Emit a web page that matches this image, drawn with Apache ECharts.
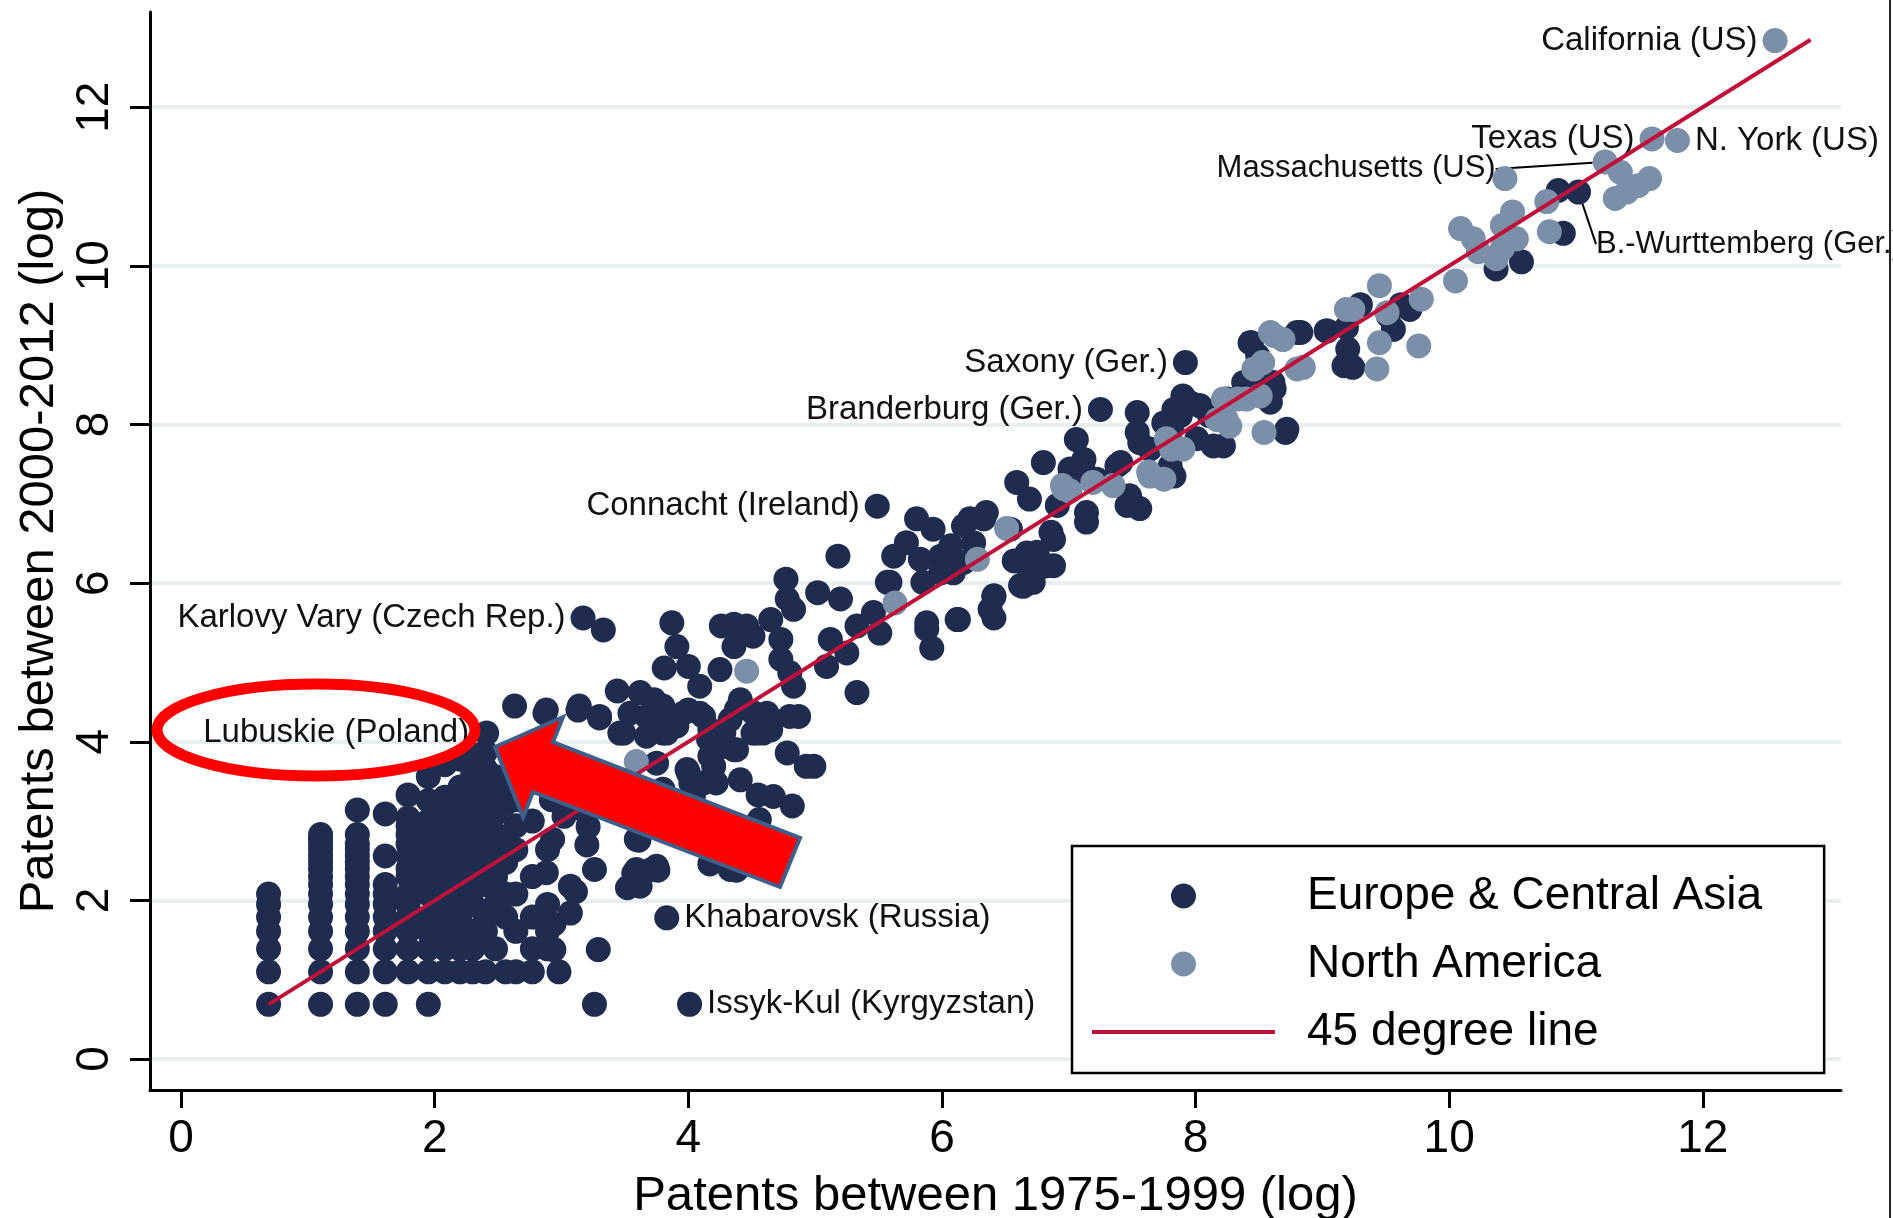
<!DOCTYPE html>
<html>
<head>
<meta charset="utf-8">
<title>Patents 1975-1999 vs 2000-2012</title>
<script src="https://cdn.jsdelivr.net/npm/echarts@6/dist/echarts.min.js"></script>
<style>
  html, body { margin: 0; padding: 0; background: #fff; }
  #chart { width: 1893px; height: 1218px; }
</style>
</head>
<body>
<div id="chart"></div>
<script>
// ---- data (log patents, x = 1975-1999, y = 2000-2012) ----
var tickValues = [0, 2, 4, 6, 8, 10, 12];
var lineEnds = [0.69, 12.85];

var europePoints = [
  [0.69,0.69],[0.69,1.10],[0.69,1.39],[0.69,1.61],[0.69,1.79],[0.69,1.95],[0.69,2.08],
  [1.10,0.69],[1.10,1.10],[1.10,1.39],[1.10,1.61],[1.10,1.79],[1.10,1.95],[1.10,2.08],[1.10,2.20],
  [1.10,2.30],[1.10,2.40],[1.10,2.48],[1.10,2.56],[1.10,2.64],[1.10,2.71],[1.10,2.77],[1.10,2.83],
  [1.39,0.69],[1.39,1.10],[1.39,1.39],[1.39,1.61],[1.39,1.79],[1.39,1.95],[1.39,2.08],[1.39,2.20],
  [1.39,2.30],[1.39,2.40],[1.39,2.48],[1.39,2.56],[1.39,2.64],[1.39,2.71],[1.39,2.83],[1.39,3.14],
  [1.61,0.69],[1.61,1.10],[1.61,1.39],[1.61,1.61],[1.61,1.79],[1.61,1.95],[1.61,2.08],[1.61,2.20],
  [1.61,2.56],[1.61,3.09],
  [1.79,1.10],[1.79,1.39],[1.79,1.61],[1.79,1.79],[1.79,1.95],[1.79,2.08],[1.79,2.30],[1.79,2.40],
  [1.79,2.56],[1.79,2.71],[1.79,2.83],[1.79,2.94],[1.79,3.04],[1.79,3.33],
  [1.95,0.69],[1.95,1.10],[1.95,1.39],[1.95,1.61],[1.95,1.79],[1.95,2.08],[1.95,2.20],[1.95,2.40],
  [1.95,2.56],[1.95,2.71],[1.95,2.89],[1.95,3.00],[1.95,3.26],[1.95,3.56],
  [2.08,1.10],[2.08,1.39],[2.08,1.61],[2.08,1.79],[2.08,1.95],[2.08,2.20],[2.08,2.30],[2.08,2.48],
  [2.08,2.64],[2.08,2.77],[2.08,2.94],[2.08,3.14],[2.08,3.30],[2.08,3.71],
  [2.20,1.10],[2.20,1.39],[2.20,1.61],[2.20,1.79],[2.20,2.08],[2.20,2.30],[2.20,2.56],[2.20,2.77],
  [2.20,3.00],[2.20,3.22],[2.20,3.43],[2.20,3.78],
  [2.30,1.10],[2.30,1.39],[2.30,1.61],[2.30,1.95],[2.30,2.20],[2.30,2.48],[2.30,2.71],[2.30,2.94],
  [2.30,3.18],[2.30,3.40],[2.30,3.61],[2.30,3.83],
  [2.40,1.10],[2.40,1.61],[2.40,1.79],[2.40,2.20],[2.40,2.40],[2.40,2.64],[2.40,2.89],[2.40,3.14],
  [2.40,3.40],[2.40,3.66],[2.40,3.87],
  [2.48,1.39],[2.48,1.95],[2.48,2.30],[2.48,2.56],[2.48,2.83],[2.48,3.09],[2.48,3.33],[2.48,3.56],
  [2.56,1.10],[2.56,1.79],[2.56,2.08],[2.56,2.48],[2.56,2.77],[2.56,3.22],[2.56,3.50],
  [2.64,1.10],[2.64,1.61],[2.64,2.08],[2.64,2.64],[2.64,2.94],[2.66,3.27],
  [2.77,1.10],[2.77,1.39],[2.77,1.79],[2.77,2.30],[2.77,3.00],[2.75,3.48],
  [2.89,1.39],[2.89,1.61],[2.89,1.95],[2.88,2.35],[2.89,2.64],[2.92,3.27],
  [2.98,1.10],[2.94,1.38],[2.94,1.70],[2.93,2.77],
  [3.07,1.84],[3.11,2.11],[3.26,2.39],[3.29,1.38],[3.26,0.69],[3.21,2.93],[3.57,2.34],[3.76,2.38],
  [3.62,2.18],[3.61,2.76],[3.59,2.39],[3.75,2.43],[3.07,2.18],[3.59,2.77],[4.17,2.46],[4.33,2.39],
  [4.38,2.38],[3.02,3.06],[3.17,3.14],[3.20,2.70],[3.90,3.00],[4.04,3.31],[3.52,2.16],[3.71,2.39],
  [2.63,4.45],[2.87,4.36],[3.13,4.40],[3.30,4.30],[3.49,4.11],[3.67,4.32],[3.80,4.11],[4.00,4.40],
  [4.16,4.03],[4.33,4.28],[4.20,3.69],[4.02,3.48],[3.80,3.40],[4.41,3.52],
  [4.67,3.31],[4.82,3.19],[4.55,3.33],[4.78,3.86],[4.93,3.69],[3.99,3.65],[4.12,3.48],[4.22,3.48],
  [4.22,3.90],[4.38,3.90],[4.54,4.11],[4.80,4.32],[3.80,4.45],[3.91,4.20],[4.12,4.32],[4.28,4.11],
  [4.38,4.41],[4.51,4.37],[4.59,4.11],
  [3.14,4.45],[3.30,4.32],[2.88,4.40],[3.44,4.64],[3.62,4.62],[3.73,4.53],[3.81,4.36],[3.54,4.36],
  [3.46,4.11],[3.67,4.07],[3.83,4.11],[3.96,4.36],[4.09,4.36],[4.17,4.15],[3.75,3.73],[4.00,3.61],
  [4.20,3.52],[4.17,3.82],[4.36,3.90],[4.51,4.11],[4.65,4.15],[4.56,3.02],[4.99,3.69],[4.87,4.32],
  [4.62,4.36],[4.41,4.53],[4.09,4.70],[4.25,4.91],[4.36,5.20],[4.51,5.33],[4.65,5.54],[4.46,5.46],
  [4.73,5.29],[4.73,5.04],[4.83,4.70],[4.80,4.87],[4.77,6.05],[4.78,5.80],[4.83,5.67],[5.02,5.88],
  [5.18,6.34],[5.20,5.80],[5.12,5.29],[5.09,4.95],[5.33,4.62],[5.25,5.12],[5.33,5.46],[5.46,5.63],
  [5.51,5.37],[5.57,6.01],[5.62,6.34],[5.72,6.51],[5.80,6.81],[5.93,6.68],[5.85,6.01],[5.88,5.42],
  [5.92,5.18],[6.12,5.54],[6.38,5.67],[6.41,5.84],[5.99,6.34],[6.09,6.13],[6.17,6.72],[6.33,6.81],
  [6.62,5.97],[6.72,6.01],[6.83,6.22],[6.67,6.38],[6.88,6.55],[6.57,6.28],[6.78,6.20],
  [3.33,5.41],[3.87,5.50],[3.91,5.20],[3.81,4.93],[4.00,4.95],[4.26,5.46],[4.36,5.48],
  [5.88,5.50],[6.13,5.54],[6.41,5.56],[6.41,5.83],[6.64,5.96],[5.83,6.30],[5.59,6.01],[5.99,6.13],
  [6.17,6.26],[6.07,6.47],[6.22,6.81],[6.35,6.89],[6.54,6.68],[6.25,6.51],[6.67,6.22],[6.88,6.22],
  [6.69,6.01],[6.86,6.64],[6.75,6.39],[6.59,7.27],[6.80,7.52],[6.69,7.06],[6.91,6.98],[7.06,7.81],
  [7.12,7.56],[7.12,7.40],[7.01,7.44],[7.22,7.31],[7.14,6.89],[7.14,6.77],[7.38,7.48],[7.46,6.98],
  [7.56,6.94],[7.48,7.10],[7.54,8.15],[7.54,7.90],[7.56,7.77],[7.64,7.69],[7.75,8.02],[7.83,8.19],
  [7.88,8.11],[7.96,8.27],[8.04,8.23],[7.80,7.48],[7.83,7.35],[8.01,7.82],[8.14,7.73],[8.22,7.73],
  [8.11,8.11],[8.25,8.32],[8.72,7.94],[8.43,9.03],[8.49,8.87],[8.38,8.53],[8.61,8.53],[8.59,8.28],
  [8.83,9.16],[9.03,9.18],[9.17,8.74],
  [10.86,10.95],[10.90,10.41],[10.37,9.96],[10.57,10.05],[9.69,9.45],[9.56,9.20],[9.24,8.72],
  [9.20,8.95],[9.04,9.18],[8.80,9.16],[8.44,9.03],[8.44,8.53],[8.62,8.45],[8.03,8.24],[7.90,8.36],
  [7.81,7.94],[8.71,7.90],[7.41,7.52],[9.52,9.37],[9.62,9.51],[9.30,9.51],[9.19,9.22]
];

var americaPoints = [
  [3.59,3.75],[4.46,4.89],[5.63,5.75],[6.28,6.30],[6.51,6.69],[6.96,7.19],[7.01,7.16],[6.95,7.23],
  [7.19,7.27],[7.35,7.23],[7.64,7.35],[7.75,7.31],[7.77,7.82],[7.90,7.69],[8.17,8.06],[8.27,7.98],
  [8.33,8.32],[8.51,8.36],[8.54,7.90],[8.46,8.70],[8.59,9.16],[8.69,9.07],[8.85,8.72],[9.19,9.45],
  [8.62,9.12],[8.53,8.78],[8.80,8.70],[8.40,8.32],[8.22,8.32],[8.24,8.07],[7.81,7.69],[7.63,7.40],
  [9.78,9.58],[9.45,9.75],[9.51,9.41],[9.24,9.45],[9.76,8.99],[9.45,9.03],[9.43,8.70],[10.05,9.81],
  [10.09,10.47],[10.19,10.34],[10.23,10.18],[10.42,10.22],[10.53,10.34],[10.37,10.09],[10.42,10.51],
  [10.50,10.68],[10.77,10.81],[10.79,10.43],[10.44,11.10],[11.35,11.18],[11.58,11.10],[11.40,10.93],
  [11.31,10.85],[11.49,11.01]
];

var europeNamed = [
  [7.92, 8.78, 'Saxony (Ger.)'],
  [7.25, 8.19, 'Branderburg (Ger.)'],
  [5.49, 6.97, 'Connacht (Ireland)'],
  [3.17, 5.56, 'Karlovy Vary (Czech Rep.)'],
  [2.41, 4.11, 'Lubuskie (Poland)'],
  [3.83, 1.78, 'Khabarovsk (Russia)'],
  [4.01, 0.69, 'Issyk-Kul (Kyrgyzstan)'],
  [11.02, 10.93, 'B.-Wurttemberg (Ger.)']
];

var americaNamed = [
  [12.57, 12.84, 'California (US)'],
  [11.60, 11.60, 'Texas (US)'],
  [11.80, 11.58, 'N. York (US)'],
  [11.23, 11.31, 'Massachusetts (US)']
];

// ---- styling ----
var FONT = "'Liberation Sans', Arial, sans-serif";
var DARK = '#1f2c50';
var LIGHT = '#7b90a8';
var RED_LINE = '#c0103a';

var rightLabels = { 'N. York (US)': 1, 'Khabarovsk (Russia)': 1, 'Issyk-Kul (Kyrgyzstan)': 1, 'B.-Wurttemberg (Ger.)': 1 };
// labels pulled away from their point, joined back with a thin line
var guided = { 'Massachusetts (US)': [-92, 7], 'B.-Wurttemberg (Ger.)': [0, 52] };

function buildData(points, named) {
  var out = points.map(function (p) { return { value: p }; });
  named.forEach(function (n) {
    var item = {
      value: [n[0], n[1]],
      name: n[2],
      label: {
        show: true,
        formatter: n[2],
        position: rightLabels[n[2]] ? 'right' : 'left',
        distance: 5
      },
      labelLine: { show: !!guided[n[2]], lineStyle: { color: '#000', width: 2 } }
    };
    if (guided[n[2]]) item.label.fontSize = 31;
    out.push(item);
  });
  return out;
}

function layoutFor(params) {
  var g = guided[params.text];
  if (g) return { dx: g[0], dy: g[1] };
  return {};
}

var labelText = { color: '#111', fontSize: 33, fontFamily: FONT };

var chart = echarts.init(document.getElementById('chart'));
chart.setOption({
  animation: false,
  backgroundColor: '#fff',
  textStyle: { fontFamily: FONT },
  grid: { left: 150, right: 52, top: 12, bottom: 128, outerBoundsMode: 'none' },
  xAxis: {
    type: 'value',
    min: -0.245, max: 13.09,
    name: 'Patents between 1975-1999 (log)',
    nameLocation: 'middle',
    nameGap: 82,
    nameTextStyle: { color: '#000', fontSize: 49, fontFamily: FONT },
    axisLine: { show: true, onZero: false, lineStyle: { color: '#000', width: 3 } },
    axisTick: { show: true, customValues: tickValues, length: 18, lineStyle: { color: '#000', width: 3 } },
    axisLabel: { customValues: tickValues, color: '#000', fontSize: 46, margin: 26, fontFamily: FONT },
    splitLine: { show: false }
  },
  yAxis: {
    type: 'value',
    min: -0.39, max: 13.2,
    name: 'Patents between 2000-2012 (log)',
    nameLocation: 'middle',
    nameGap: 86,
    nameTextStyle: { color: '#000', fontSize: 49, fontFamily: FONT },
    axisLine: { show: true, onZero: false, lineStyle: { color: '#000', width: 3 } },
    axisTick: { show: true, customValues: tickValues, length: 20, lineStyle: { color: '#000', width: 3 } },
    axisLabel: { customValues: tickValues, rotate: 90, color: '#000', fontSize: 46, margin: 32, fontFamily: FONT },
    splitLine: { show: false }
  },
  legend: {
    orient: 'vertical',
    left: 1072, top: 846,
    padding: [27, 62, 18, 20],
    itemWidth: 183, itemHeight: 25, itemGap: 22,
    backgroundColor: '#fff',
    borderColor: '#000', borderWidth: 2.5,
    z: 50,
    textStyle: { color: '#000', fontSize: 46, lineHeight: 46, fontFamily: FONT, padding: [0, 0, 0, 27] },
    data: [
      { name: 'Europe & Central Asia', icon: 'circle' },
      { name: 'North America', icon: 'circle' },
      { name: '45 degree line', icon: 'path://M0,0H60V1.3H0Z' }
    ]
  },
  series: [
    {
      name: 'grid',
      type: 'line',
      data: [],
      z: 0,
      markLine: {
        silent: true,
        z: 0,
        symbol: ['none', 'none'],
        label: { show: false },
        lineStyle: { color: '#e8eff1', width: 4, type: 'solid' },
        data: tickValues.map(function (v) { return { yAxis: v }; })
      }
    },
    {
      name: 'Europe & Central Asia',
      type: 'scatter',
      symbol: 'circle',
      symbolSize: 25,
      z: 2,
      itemStyle: { color: DARK, opacity: 1 },
      label: labelText,
      labelLayout: layoutFor,
      data: buildData(europePoints, europeNamed)
    },
    {
      name: 'North America',
      type: 'scatter',
      symbol: 'circle',
      symbolSize: 25,
      z: 3,
      itemStyle: { color: LIGHT, opacity: 1 },
      label: labelText,
      labelLayout: layoutFor,
      data: buildData(americaPoints, americaNamed)
    },
    {
      name: '45 degree line',
      type: 'line',
      z: 4,
      symbol: 'none',
      showSymbol: false,
      lineStyle: { color: RED_LINE, width: 4 },
      itemStyle: { color: RED_LINE },
      data: [[lineEnds[0], lineEnds[0]], [lineEnds[1], lineEnds[1]]]
    }
  ],
  graphic: [
    {
      type: 'ellipse',
      z: 100,
      shape: { cx: 316, cy: 730, rx: 159, ry: 46 },
      style: { fill: 'none', stroke: '#ff0000', lineWidth: 11 }
    },
    {
      type: 'polygon',
      z: 101,
      shape: {
        points: [[495, 747], [563, 717], [553, 742], [800, 838], [780, 887], [533, 792], [523, 817]]
      },
      style: { fill: '#ff0000', stroke: '#3d5f8a', lineWidth: 4, lineJoin: 'miter' }
    },
    {
      type: 'line',
      z: 100,
      shape: { x1: 1890, y1: 0, x2: 1890, y2: 1218 },
      style: { stroke: '#222', lineWidth: 2 }
    }
  ]
});
</script>
</body>
</html>
